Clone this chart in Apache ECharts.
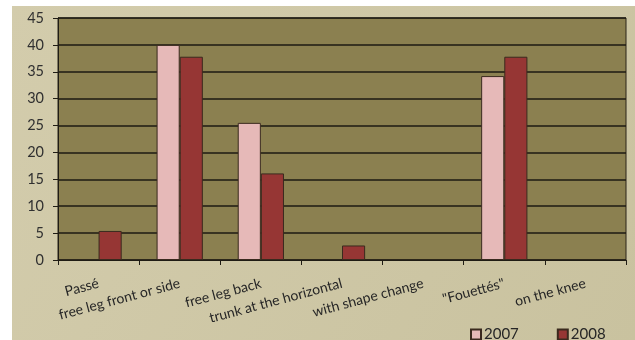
<!DOCTYPE html>
<html>
<head>
<meta charset="utf-8">
<script src="https://cdn.jsdelivr.net/npm/echarts@6/dist/echarts.min.js"></script>
<style>
  html, body { margin: 0; padding: 0; background: #ffffff; }
  #chart { width: 635px; height: 340px; }
</style>
</head>
<body>
<div id="chart"></div>
<script>
// Element categories
var categories = [
  'Passé',
  'free leg front or side',
  'free leg back',
  'trunk at the horizontal',
  'with shape change',
  '"Fouettés"',
  'on the knee'
];

// Percentages per year (null = not present)
var values2007 = [null, 40, 25.5, null, null, 34.2, null];
var values2008 = [5.4, 37.8, 16.1, 2.7, null, 37.8, null];

var seriesNames = ['2007', '2008'];
var yTicks = { min: 0, max: 45, step: 5 };

var chart = echarts.init(document.getElementById('chart'), null, { renderer: 'canvas' });

var edge = '#3a2a1e';

var option = {
  backgroundColor: '#ffffff',
  animation: false,
  graphic: [{
    type: 'rect',
    z: -10,
    shape: { x: 12, y: 6, width: 623, height: 334 },
    style: {
      fill: new echarts.graphic.LinearGradient(0, 0, 1, 1, [
        { offset: 0, color: '#d3ccac' },
        { offset: 1, color: '#c9c29f' }
      ])
    }
  }],
  grid: {
    left: 58,
    right: 9,
    top: 18,
    bottom: 80,
    containLabel: false,
    show: true,
    backgroundColor: '#8b8050',
    borderColor: '#2a2418',
    borderWidth: 1
  },
  legend: {
    data: seriesNames,
    left: 465,
    top: 322,
    itemWidth: 10,
    itemHeight: 10,
    itemGap: 38,
    icon: 'rect',
    textStyle: { fontFamily: 'Lato', fontSize: 15, color: '#262626', padding: [0, 0, 0, -2] }
  },
  xAxis: {
    type: 'category',
    data: categories,
    axisLine: { show: true, lineStyle: { color: '#1f1c14', width: 1 } },
    axisTick: { show: true, length: 5, lineStyle: { color: '#1f1c14' } },
    axisLabel: {
      rotate: 15,
      margin: 23,
      interval: 0,
      fontFamily: 'Lato',
      fontSize: 14,
      color: '#262626'
    },
    splitLine: { show: false }
  },
  yAxis: {
    type: 'value',
    min: yTicks.min,
    max: yTicks.max,
    interval: yTicks.step,
    axisLine: { show: true, lineStyle: { color: '#1f1c14', width: 1 } },
    axisTick: { show: true, length: 5, lineStyle: { color: '#1f1c14' } },
    axisLabel: {
      margin: 14,
      fontFamily: 'Lato',
      fontSize: 14.5,
      color: '#303030'
    },
    splitLine: { show: true, lineStyle: { color: '#1c1a12', width: 1.5 } }
  },
  series: [
    {
      name: seriesNames[0],
      type: 'bar',
      data: values2007,
      barGap: '0%',
      barCategoryGap: '43%',
      itemStyle: { color: '#e6b9b8', borderColor: edge, borderWidth: 1 }
    },
    {
      name: seriesNames[1],
      type: 'bar',
      data: values2008,
      barGap: '0%',
      barCategoryGap: '43%',
      itemStyle: { color: '#963634', borderColor: edge, borderWidth: 1 }
    }
  ]
};

chart.setOption(option);
</script>
</body>
</html>
